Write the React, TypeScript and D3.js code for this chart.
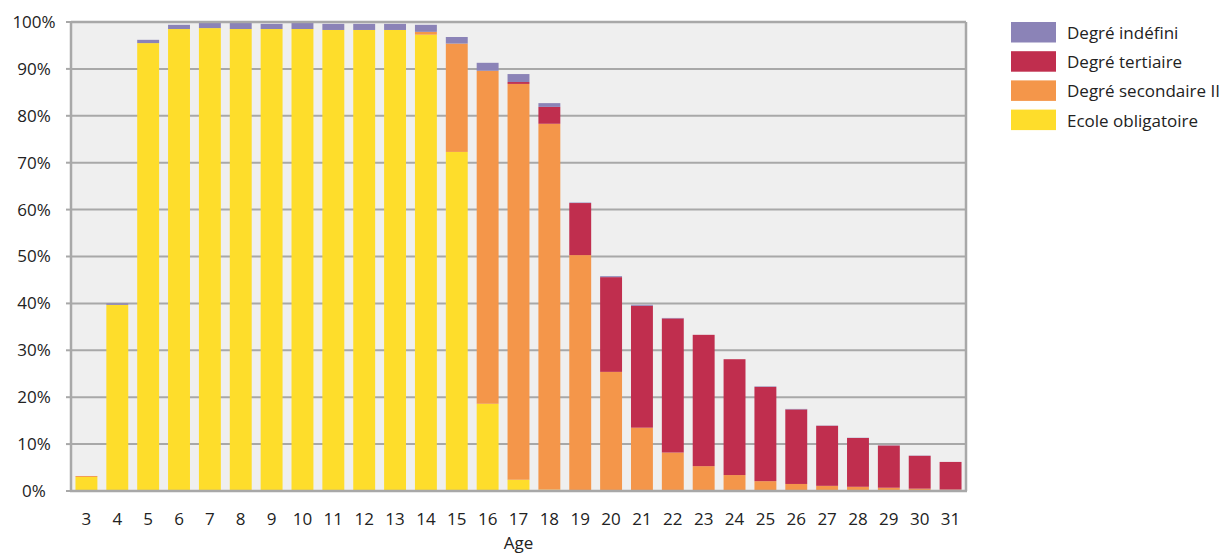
import React from "react";
import * as d3 from "d3";

const ages = ["3","4","5","6","7","8","9","10","11","12","13","14","15","16","17","18","19","20","21","22","23","24","25","26","27","28","29","30","31"];
const ecoleObligatoire = [3.0,39.7,95.5,98.5,98.7,98.5,98.5,98.5,98.3,98.3,98.3,97.3,72.3,18.6,2.4,0.3,0,0,0,0,0,0,0,0,0,0,0,0,0];
const secondaireII = [0.2,0,0,0,0,0,0,0,0,0,0,0.6,23.1,71.0,84.4,78.0,50.3,25.4,13.5,8.2,5.3,3.4,2.1,1.5,1.1,0.9,0.7,0.5,0.3];
const tertiaire = [0,0,0,0,0,0,0,0,0,0,0,0,0,0,0.4,3.6,11.1,20.2,26.0,28.6,28.0,24.7,20.1,15.9,12.8,10.4,9.0,7.0,5.9];
const indefini = [0,0.3,0.7,0.9,1.1,1.3,1.1,1.3,1.3,1.3,1.3,1.5,1.4,1.7,1.7,0.8,0.1,0.2,0.2,0.1,0,0,0.1,0.1,0.05,0.05,0.05,0.05,0];
const yTicks = [0,10,20,30,40,50,60,70,80,90,100];

const seriesKeys = ["ecole","secondaire","tertiaire","indefini"];
const seriesLabels: Record<string,string> = {
  indefini: "Degré indéfini",
  tertiaire: "Degré tertiaire",
  secondaire: "Degré secondaire II",
  ecole: "Ecole obligatoire",
};
const colors: Record<string,string> = {
  indefini: "#8B83B7",
  tertiaire: "#C02E4E",
  secondaire: "#F4964A",
  ecole: "#FEDD2B",
};
const legendOrder = ["indefini","tertiaire","secondaire","ecole"];

export default function App() {
  const W = 1221, H = 554;
  const left = 71, right = 966, top = 22, bottom = 491;
  const font = "'Open Sans', 'Noto Sans', sans-serif";
  const fs = 17;

  const rows = ages.map((a, i) => ({
    age: a,
    ecole: ecoleObligatoire[i],
    secondaire: secondaireII[i],
    tertiaire: tertiaire[i],
    indefini: indefini[i],
  }));
  const stacked = d3.stack<any>().keys(seriesKeys)(rows);

  const x = d3.scaleBand().domain(ages).range([left, right]).paddingInner(0.29).paddingOuter(0.145);
  const y = d3.scaleLinear().domain([0, 100]).range([bottom, top]);
  const grid = "#A8A8A8";

  return (
    <svg width={W} height={H} style={{ position: "absolute", left: 0, top: 0, background: "#fff" }}>
      <rect x={left} y={top} width={right - left} height={bottom - top} fill="#EFEFEF" />
      {yTicks.filter(t => t > 0 && t < 100).map(t => (
        <line key={t} x1={left} x2={right} y1={y(t)} y2={y(t)} stroke={grid} strokeWidth={2} />
      ))}
      {stacked.map(s => (
        <g key={s.key} fill={colors[s.key]}>
          {s.map((d, i) => {
            const h = y(d[0]) - y(d[1]);
            if (h <= 0) return null;
            return <rect key={i} x={x(ages[i])} y={y(d[1])} width={x.bandwidth()} height={h} />;
          })}
        </g>
      ))}
      <line x1={left} x2={right} y1={top} y2={top} stroke={grid} strokeWidth={2.5} />
      <line x1={right} x2={right} y1={top} y2={bottom} stroke={grid} strokeWidth={2.5} />
      <line x1={left} x2={left} y1={top - 1} y2={bottom + 1} stroke={grid} strokeWidth={2.5} />
      <line x1={left - 1} x2={right + 1} y1={bottom} y2={bottom} stroke={grid} strokeWidth={2.5} />
      {yTicks.map(t => (
        <g key={t}>
          <line x1={left - 5} x2={left} y1={y(t)} y2={y(t)} stroke={grid} strokeWidth={2} />
          <text x={34} y={y(t)} dy="0.35em" textAnchor="middle" fontFamily={font} fontSize={fs} fill="#222">{t}%</text>
        </g>
      ))}
      {ages.map(a => (
        <text key={a} x={(x(a) as number) + x.bandwidth() / 2} y={519} dy="0.35em" textAnchor="middle" fontFamily={font} fontSize={fs} fill="#222">{a}</text>
      ))}
      <text x={(left + right) / 2} y={543} dy="0.35em" textAnchor="middle" fontFamily={font} fontSize={fs} fill="#222">Age</text>
      {legendOrder.map((k, i) => (
        <g key={k} transform={`translate(1011, ${22 + i * 29.2})`}>
          <rect width={45} height={20.5} fill={colors[k]} />
          <text x={56} y={11} dy="0.35em" fontFamily={font} fontSize={fs} fill="#222">{seriesLabels[k]}</text>
        </g>
      ))}
    </svg>
  );
}
